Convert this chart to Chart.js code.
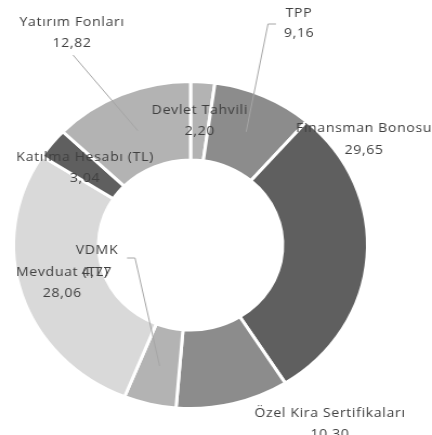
<!DOCTYPE html>
<html>
<head>
<meta charset="utf-8">
<script src="https://cdn.jsdelivr.net/npm/chart.js@4"></script>
<style>
  html, body { margin: 0; padding: 0; background: #fff; overflow: hidden; }
  #wrap { width: 399px; height: 435px; transform: scaleX(1.0827); transform-origin: 0 0; }
  canvas { display: block; }
</style>
</head>
<body>
<div id="wrap"><canvas id="c" width="399" height="435"></canvas></div>
<script>
// ---- data ----
const categories = ["Devlet Tahvili", "TPP", "Finansman Bonosu", "Özel Kira Sertifikaları", "VDMK", "Mevduat (TL)", "Katılma Hesabı (TL)", "Yatırım Fonları"];
const values = [2.20, 9.16, 29.65, 10.30, 4.77, 28.06, 3.04, 12.82];
const valueLabels = ["2,20", "9,16", "29,65", "10,30", "4,77", "28,06", "3,04", "12,82"];

// ---- styling / layout ----
const colors = ["#b3b3b3", "#8c8c8c", "#5f5f5f", "#8c8c8c", "#b3b3b3", "#d9d9d9", "#5f5f5f", "#b3b3b3"];
const SX = 432 / 399;
// manually placed labels (reference pixel coordinates: centre x, first line y, second line y)
const placed = {
  1: { x: 299, y1: 13, y2: 33, lead: [[276, 24], [268, 24]] },
  2: { x: 364, y1: 128, y2: 150 },
  3: { x: 330, y1: 413, y2: 434 },
  4: { x: 97, y1: 250, y2: 272, lead: [[127, 258], [135, 258]] },
  7: { x: 72, y1: 22, y2: 43, lead: [[73, 55]] }
};

const labelPlugin = {
  id: 'sliceLabels',
  afterDatasetsDraw(chart) {
    const ctx = chart.ctx;
    const meta = chart.getDatasetMeta(0);
    ctx.save();
    // leader lines
    ctx.strokeStyle = '#a6a6a6';
    ctx.lineWidth = 1;
    meta.data.forEach((arc, i) => {
      const p = placed[i];
      if (!p || !p.lead) return;
      const tp = arc.tooltipPosition();
      ctx.beginPath();
      p.lead.forEach((pt, k) => {
        const x = pt[0] / SX, y = pt[1];
        if (k === 0) ctx.moveTo(x, y); else ctx.lineTo(x, y);
      });
      ctx.lineTo(tp.x, tp.y);
      ctx.stroke();
    });
    // texts
    ctx.fillStyle = '#404040';
    ctx.font = '13px "Open Sans"';
    ctx.textAlign = 'center';
    ctx.textBaseline = 'middle';
    try { ctx.letterSpacing = '0.6px'; } catch (e) {}
    meta.data.forEach((arc, i) => {
      const p = placed[i];
      let x, y1, y2;
      if (p) { x = p.x / SX; y1 = p.y1; y2 = p.y2; }
      else {
        const tp = arc.tooltipPosition();
        x = tp.x; y1 = tp.y - 10.5; y2 = tp.y + 10.5;
      }
      ctx.fillText(categories[i], x, y1);
      ctx.fillText(valueLabels[i], x, y2);
    });
    ctx.restore();
  }
};

new Chart(document.getElementById('c'), {
  type: 'doughnut',
  data: {
    labels: categories,
    datasets: [{
      data: values,
      backgroundColor: colors,
      borderColor: '#ffffff',
      borderWidth: 3,
      hoverOffset: 0
    }]
  },
  options: {
    responsive: false,
    animation: false,
    cutout: '52%',
    layout: { padding: { left: 11, top: 80, right: 58, bottom: 25 } },
    plugins: { legend: { display: false }, tooltip: { enabled: false } }
  },
  plugins: [labelPlugin]
});
</script>
</body>
</html>
